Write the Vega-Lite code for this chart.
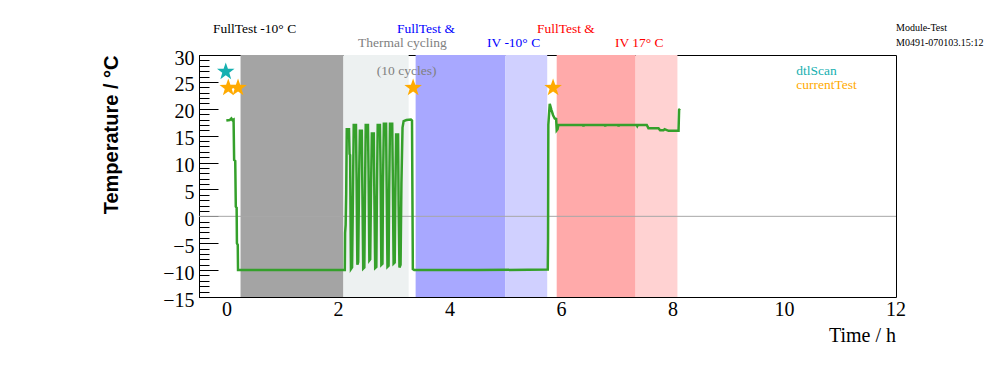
{
  "$schema": "https://vega.github.io/schema/vega-lite/v6.json",
  "width": 697,
  "height": 242,
  "autosize": {"type": "none"},
  "padding": {"left": 199, "top": 55, "right": 100, "bottom": 75},
  "background": "white",
  "view": {"stroke": "black", "strokeWidth": 1},
  "config": {"font": "Liberation Serif"},
  "resolve": {"scale": {"color": "independent", "fill": "independent"}, "axis": {"y": "independent"}},
  "layer": [
    {
      "data": {"values": [
        {"start": 0.245, "end": 2.09, "phase": "FullTest -10C"},
        {"start": 2.09, "end": 3.26, "phase": "Thermal cycling"},
        {"start": 3.385, "end": 4.99, "phase": "IV -10C"},
        {"start": 4.99, "end": 5.745, "phase": "IV -10C tail"},
        {"start": 5.915, "end": 7.33, "phase": "IV 17C"},
        {"start": 7.33, "end": 8.08, "phase": "IV 17C tail"}
      ]},
      "mark": {"type": "rect"},
      "encoding": {
        "x": {"field": "start", "type": "quantitative", "axis": null},
        "x2": {"field": "end"},
        "fill": {
          "field": "phase", "type": "nominal", "legend": null,
          "scale": {
            "domain": ["FullTest -10C", "Thermal cycling", "IV -10C", "IV -10C tail", "IV 17C", "IV 17C tail"],
            "range": ["#a4a4a4", "#edf1f1", "#a8a8ff", "#d0d0ff", "#ffaaaa", "#ffd2d2"]
          }
        }
      }
    },
    {
      "data": {"values": [{}]},
      "mark": {"type": "rule", "color": "#a8a8a8", "strokeWidth": 1},
      "encoding": {"y": {"datum": 0, "type": "quantitative", "axis": null}}
    },
    {
      "data": {"values": [
        {"hour": -0.01, "deg": 17.8}, {"hour": 0.05, "deg": 17.9}, {"hour": 0.08, "deg": 18.2}, {"hour": 0.1, "deg": 17.9},
        {"hour": 0.12, "deg": 18.0}, {"hour": 0.13, "deg": 10.5}, {"hour": 0.15, "deg": 10.3}, {"hour": 0.16, "deg": 1.8},
        {"hour": 0.175, "deg": 1.6}, {"hour": 0.18, "deg": -5.0}, {"hour": 0.195, "deg": -5.3}, {"hour": 0.2, "deg": -10.0},
        {"hour": 1.0, "deg": -10.0}, {"hour": 2.115, "deg": -10.0},
        {"hour": 2.12, "deg": -3.1}, {"hour": 2.13, "deg": -1.6}, {"hour": 2.14, "deg": 4.3}, {"hour": 2.15, "deg": 16.2},
        {"hour": 2.19, "deg": 16.2}, {"hour": 2.2, "deg": 11.6}, {"hour": 2.21, "deg": 11.4}, {"hour": 2.225, "deg": -9.8},
        {"hour": 2.245, "deg": -9.5}, {"hour": 2.26, "deg": 3.0}, {"hour": 2.275, "deg": 17.0}, {"hour": 2.315, "deg": 17.0},
        {"hour": 2.325, "deg": 8.0}, {"hour": 2.34, "deg": -9.0}, {"hour": 2.355, "deg": -8.5}, {"hour": 2.37, "deg": 6.0},
        {"hour": 2.385, "deg": 15.9}, {"hour": 2.42, "deg": 15.9}, {"hour": 2.43, "deg": 5.0}, {"hour": 2.445, "deg": -9.7},
        {"hour": 2.465, "deg": -9.5}, {"hour": 2.475, "deg": 2.0}, {"hour": 2.49, "deg": 17.0}, {"hour": 2.53, "deg": 17.0},
        {"hour": 2.54, "deg": 9.0}, {"hour": 2.555, "deg": -8.2}, {"hour": 2.57, "deg": -8.0}, {"hour": 2.585, "deg": 5.0},
        {"hour": 2.6, "deg": 15.4}, {"hour": 2.635, "deg": 15.4}, {"hour": 2.645, "deg": 4.0}, {"hour": 2.66, "deg": -9.6},
        {"hour": 2.68, "deg": -9.4}, {"hour": 2.69, "deg": 3.0}, {"hour": 2.705, "deg": 17.0}, {"hour": 2.745, "deg": 17.0},
        {"hour": 2.755, "deg": 10.0}, {"hour": 2.77, "deg": -9.0}, {"hour": 2.79, "deg": -8.8}, {"hour": 2.8, "deg": 6.0},
        {"hour": 2.815, "deg": 17.2}, {"hour": 2.855, "deg": 17.2}, {"hour": 2.865, "deg": 6.0}, {"hour": 2.88, "deg": -9.4},
        {"hour": 2.9, "deg": -9.2}, {"hour": 2.91, "deg": 4.0}, {"hour": 2.925, "deg": 17.2}, {"hour": 2.965, "deg": 17.2},
        {"hour": 2.975, "deg": 8.0}, {"hour": 2.99, "deg": -8.8}, {"hour": 3.01, "deg": -8.6}, {"hour": 3.02, "deg": 3.0},
        {"hour": 3.035, "deg": 15.2}, {"hour": 3.07, "deg": 15.2}, {"hour": 3.08, "deg": 2.0}, {"hour": 3.095, "deg": -9.5},
        {"hour": 3.115, "deg": -9.0}, {"hour": 3.13, "deg": 6.0}, {"hour": 3.15, "deg": 16.5}, {"hour": 3.17, "deg": 17.7},
        {"hour": 3.22, "deg": 17.9}, {"hour": 3.3, "deg": 18.0}, {"hour": 3.32, "deg": 17.8}, {"hour": 3.335, "deg": -9.8},
        {"hour": 3.36, "deg": -10.0}, {"hour": 4.5, "deg": -10.0}, {"hour": 5.755, "deg": -9.9}, {"hour": 5.76, "deg": -4.3},
        {"hour": 5.765, "deg": 17.0}, {"hour": 5.79, "deg": 20.9}, {"hour": 5.82, "deg": 19.8}, {"hour": 5.85, "deg": 18.8},
        {"hour": 5.88, "deg": 18.2}, {"hour": 5.905, "deg": 18.1}, {"hour": 5.915, "deg": 16.0}, {"hour": 5.93, "deg": 16.2},
        {"hour": 5.945, "deg": 17.0}, {"hour": 6.39, "deg": 17.0}, {"hour": 6.395, "deg": 16.7}, {"hour": 6.4, "deg": 17.0},
        {"hour": 6.78, "deg": 17.0}, {"hour": 6.785, "deg": 16.7}, {"hour": 6.79, "deg": 17.0}, {"hour": 7.02, "deg": 17.0},
        {"hour": 7.025, "deg": 16.7}, {"hour": 7.03, "deg": 17.0}, {"hour": 7.35, "deg": 17.0}, {"hour": 7.36, "deg": 16.8},
        {"hour": 7.37, "deg": 17.0}, {"hour": 7.53, "deg": 17.0}, {"hour": 7.56, "deg": 16.4}, {"hour": 7.74, "deg": 16.4},
        {"hour": 7.77, "deg": 16.0}, {"hour": 7.83, "deg": 16.0}, {"hour": 7.85, "deg": 16.2}, {"hour": 7.92, "deg": 15.9},
        {"hour": 8.1, "deg": 15.9}, {"hour": 8.11, "deg": 19.8}, {"hour": 8.125, "deg": 20.0}
      ]},
      "mark": {"type": "line", "color": "#35a02b", "strokeWidth": 2.5},
      "encoding": {
        "x": {
          "field": "hour", "type": "quantitative", "title": null,
          "scale": {"domain": [-0.5, 12], "nice": false, "zero": false},
          "axis": {
            "orient": "bottom", "labels": false, "title": null,
            "values": [0, 0.5, 1, 1.5, 2, 2.5, 3, 3.5, 4, 4.5, 5, 5.5, 6, 6.5, 7, 7.5, 8, 8.5, 9, 9.5, 10, 10.5, 11, 11.5, 12],
            "grid": false, "domainColor": "black", "tickColor": "black", "tickSize": -5
          }
        },
        "y": {
          "field": "deg", "type": "quantitative", "title": "Temperature / °C",
          "scale": {"domain": [-15, 30], "nice": false, "zero": false},
          "axis": {
            "orient": "left",
            "values": [-15, -10, -5, 0, 5, 10, 15, 20, 25, 30],
            "labelOverlap": false, "labelFlush": false, "grid": false,
            "domainColor": "black", "tickColor": "black", "tickSize": -19,
            "labelFont": "Liberation Serif", "labelFontSize": 20, "labelColor": "black", "labelPadding": 24,
            "labelOffset": 3,
            "titleFont": "Liberation Sans", "titleFontSize": 20, "titleFontWeight": "bold", "titleColor": "black",
            "titleAngle": -90, "titleAlign": "right", "titleBaseline": "alphabetic", "titleX": -82, "titleY": 0, "titleAnchor": "end"
          }
        }
      }
    },
    {
      "data": {"values": [
        {"hour": -0.02, "deg": 26.9, "kind": "dtlScan"},
        {"hour": 0.025, "deg": 23.9, "kind": "currentTest"},
        {"hour": 0.2, "deg": 23.9, "kind": "currentTest"},
        {"hour": 3.34, "deg": 23.9, "kind": "currentTest"},
        {"hour": 5.85, "deg": 23.9, "kind": "currentTest"}
      ]},
      "mark": {"type": "point", "shape": "M0,-1L0.235,-0.324L0.951,-0.309L0.38,0.124L0.588,0.809L0,0.4L-0.588,0.809L-0.38,0.124L-0.951,-0.309L-0.235,-0.324Z", "filled": true, "opacity": 1, "size": 340},
      "encoding": {
        "x": {"field": "hour", "type": "quantitative", "axis": null},
        "y": {
          "field": "deg", "type": "quantitative",
          "axis": {
            "orient": "left", "title": null, "labels": false, "domain": false, "grid": false,
            "values": [-14, -13, -12, -11, -9, -8, -7, -6, -4, -3, -2, -1, 1, 2, 3, 4, 6, 7, 8, 9, 11, 12, 13, 14, 16, 17, 18, 19, 21, 22, 23, 24, 26, 27, 28, 29],
            "tickColor": "black", "tickSize": -10
          }
        },
        "color": {
          "field": "kind", "type": "nominal", "legend": null,
          "scale": {"domain": ["dtlScan", "currentTest"], "range": ["#16b0b0", "#ffaa00"]}
        }
      }
    },
    {
      "data": {"values": [
        {"hour": -0.25, "deg": 34.8, "label": "FullTest -10° C", "group": "black"},
        {"hour": 3.05, "deg": 34.8, "label": "FullTest &", "group": "blue"},
        {"hour": 2.35, "deg": 32.2, "label": "Thermal cycling", "group": "grey"},
        {"hour": 4.665, "deg": 32.2, "label": "IV -10° C", "group": "blue"},
        {"hour": 5.56, "deg": 34.8, "label": "FullTest &", "group": "red"},
        {"hour": 6.96, "deg": 32.2, "label": "IV 17° C", "group": "red"},
        {"hour": 2.69, "deg": 27.1, "label": "(10 cycles)", "group": "grey"},
        {"hour": 10.21, "deg": 27.1, "label": "dtlScan", "group": "teal"},
        {"hour": 10.21, "deg": 24.5, "label": "currentTest", "group": "orange"}
      ]},
      "mark": {"type": "text", "align": "left", "baseline": "middle", "font": "Liberation Serif", "fontSize": 13.5},
      "encoding": {
        "x": {"field": "hour", "type": "quantitative", "axis": null},
        "y": {"field": "deg", "type": "quantitative", "axis": null},
        "text": {"field": "label", "type": "nominal"},
        "color": {
          "field": "group", "type": "nominal", "legend": null,
          "scale": {"domain": ["black", "blue", "grey", "red", "teal", "orange"], "range": ["#000000", "#0000ff", "#808080", "#ff0000", "#16b0b0", "#ffaa00"]}
        }
      }
    },
    {
      "data": {"values": [
        {"hour": 12.0, "deg": 34.95, "label": "Module-Test"},
        {"hour": 12.0, "deg": 32.2, "label": "M0491-070103.15:12"}
      ]},
      "mark": {"type": "text", "align": "left", "baseline": "middle", "font": "Liberation Serif", "fontSize": 10, "color": "black"},
      "encoding": {
        "x": {"field": "hour", "type": "quantitative", "axis": null},
        "y": {"field": "deg", "type": "quantitative", "axis": null},
        "text": {"field": "label", "type": "nominal"}
      }
    },
    {
      "data": {"values": [
        {"hour": 0, "deg": -17.4, "label": "0"},
        {"hour": 2, "deg": -17.4, "label": "2"},
        {"hour": 4, "deg": -17.4, "label": "4"},
        {"hour": 6, "deg": -17.4, "label": "6"},
        {"hour": 8, "deg": -17.4, "label": "8"},
        {"hour": 10, "deg": -17.4, "label": "10"},
        {"hour": 12, "deg": -17.4, "label": "12"}
      ]},
      "mark": {"type": "text", "align": "center", "baseline": "middle", "font": "Liberation Serif", "fontSize": 20, "color": "black"},
      "encoding": {
        "x": {"field": "hour", "type": "quantitative", "axis": null},
        "y": {"field": "deg", "type": "quantitative", "axis": null},
        "text": {"field": "label", "type": "nominal"}
      }
    },
    {
      "data": {"values": [
        {"hour": 12, "deg": -23.37, "label": "Time / h"}
      ]},
      "mark": {"type": "text", "align": "right", "baseline": "alphabetic", "font": "Liberation Serif", "fontSize": 20, "color": "black"},
      "encoding": {
        "x": {"field": "hour", "type": "quantitative", "axis": null},
        "y": {"field": "deg", "type": "quantitative", "axis": null},
        "text": {"field": "label", "type": "nominal"}
      }
    }
  ]
}
